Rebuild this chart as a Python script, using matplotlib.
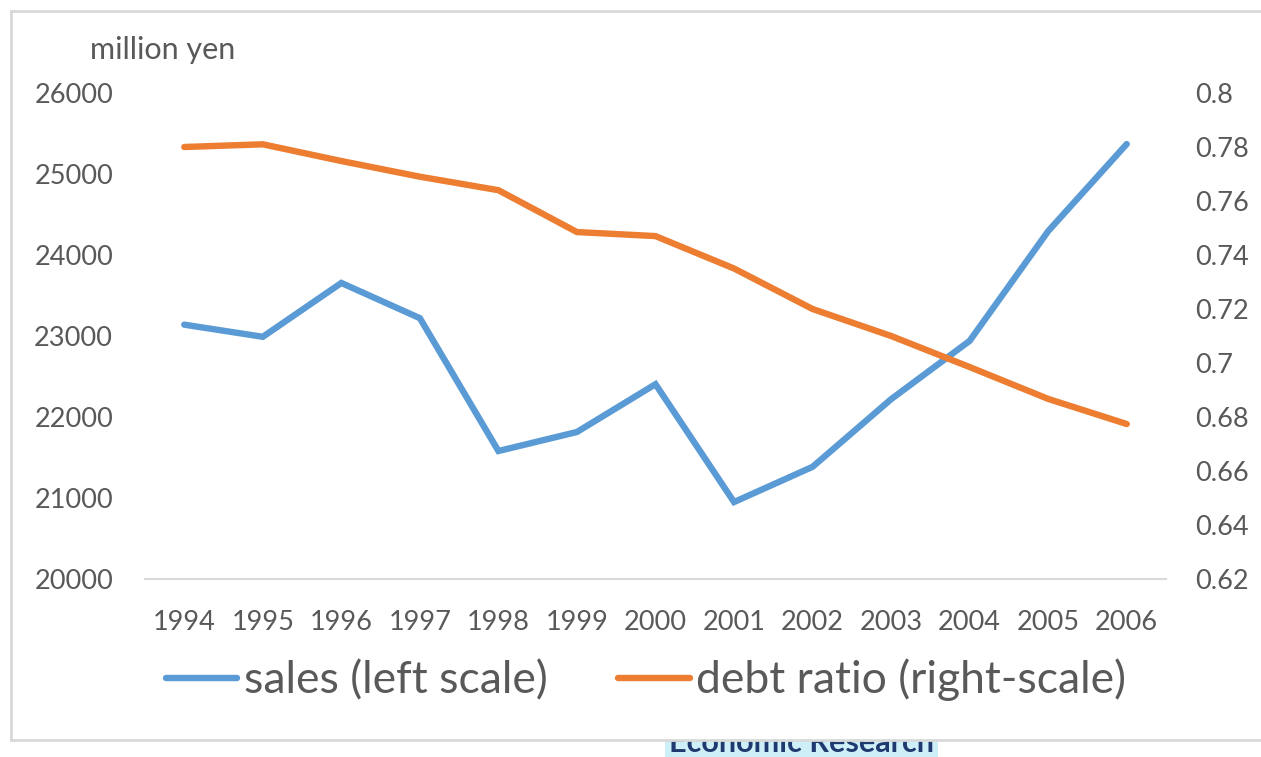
import matplotlib.pyplot as plt
from matplotlib.patches import Rectangle
from matplotlib.lines import Line2D

plt.rcParams['font.family'] = ['Lato', 'DejaVu Sans']

years = ['1994', '1995', '1996', '1997', '1998', '1999', '2000',
         '2001', '2002', '2003', '2004', '2005', '2006']
sales = [23140, 22990, 23655, 23220, 21580, 21815, 22405,
         20950, 21385, 22220, 22940, 24295, 25370]
debt_ratio = [0.780, 0.781, 0.7748, 0.769, 0.764, 0.7485, 0.747,
              0.735, 0.720, 0.710, 0.6985, 0.6867, 0.6774]
left_ticks = [20000, 21000, 22000, 23000, 24000, 25000, 26000]
right_ticks = [0.62, 0.64, 0.66, 0.68, 0.7, 0.72, 0.74, 0.76, 0.78, 0.8]
right_labels = ['0.62', '0.64', '0.66', '0.68', '0.7', '0.72', '0.74', '0.76', '0.78', '0.8']

blue = '#5B9BD5'
orange = '#ED7D31'
grey_txt = '#595959'
border = '#D9D9D9'

W, H = 1261, 757
fig = plt.figure(figsize=(12.61, 7.57), dpi=100)

# stray caption under the chart box, top half hidden by the box
fig.text(669 / W, 1 - 752 / H, 'Economic Research', fontsize=22, fontweight='bold',
         color='#1F3A6E', ha='left', va='baseline', zorder=0,
         bbox=dict(facecolor='#CDEFF8', edgecolor='none', pad=3))

# chart box (white area, open on the right)
fig.patches.append(Rectangle((11 / W, 1 - 740 / H), 1.0, (740 - 11) / H,
                             transform=fig.transFigure, facecolor='white',
                             edgecolor='none', zorder=1))
for xs, ys in [((11 / W, 1.0), (1 - 11 / H, 1 - 11 / H)),
               ((11 / W, 1.0), (1 - 740 / H, 1 - 740 / H)),
               ((11 / W, 11 / W), (1 - 11 / H, 1 - 740 / H))]:
    fig.lines.append(Line2D(xs, ys, transform=fig.transFigure, color=border,
                            lw=2, zorder=1.5))

ax = fig.add_axes([145 / W, 1 - 579 / H, (1166 - 145) / W, (579 - 93) / H])
ax.set_zorder(2)
ax.patch.set_visible(False)
x = list(range(len(years)))

ax.plot(x, sales, color=blue, lw=4.6, solid_capstyle='round', solid_joinstyle='miter')
ax.set_xlim(-0.5, len(years) - 0.5)
ax.set_ylim(20000, 26000)
ax.set_yticks(left_ticks)
ax.set_xticks(x)
ax.set_xticklabels(years)

ax2 = ax.twinx()
ax2.plot(x, debt_ratio, color=orange, lw=4.6, solid_capstyle='round', solid_joinstyle='miter')
ax2.set_ylim(0.62, 0.8)
ax2.set_yticks(right_ticks)
ax2.set_yticklabels(right_labels)

for a in (ax, ax2):
    for s in a.spines.values():
        s.set_visible(False)
    a.tick_params(length=0, labelsize=19.5, colors=grey_txt)
ax.spines['bottom'].set_visible(True)
ax.spines['bottom'].set_color(border)
ax.spines['bottom'].set_linewidth(1.5)
ax.tick_params(axis='y', pad=23)
ax.tick_params(axis='x', pad=22)
ax2.tick_params(axis='y', pad=21)

fig.text(90 / W, 1 - 50 / H, 'million yen', fontsize=22, color=grey_txt,
         ha='left', va='center', zorder=3)

handles = [Line2D([], [], color=blue, lw=4.6, solid_capstyle='round'),
           Line2D([], [], color=orange, lw=4.6, solid_capstyle='round')]
fig.legend(handles, ['sales (left scale)', 'debt ratio (right-scale)'],
           loc='center', bbox_to_anchor=(646 / W, 1 - 680 / H), ncol=2,
           frameon=False, fontsize=32, labelcolor=grey_txt, handlelength=1.6,
           handletextpad=0.15, columnspacing=1.6)

fig.savefig('out.png', dpi=100)
